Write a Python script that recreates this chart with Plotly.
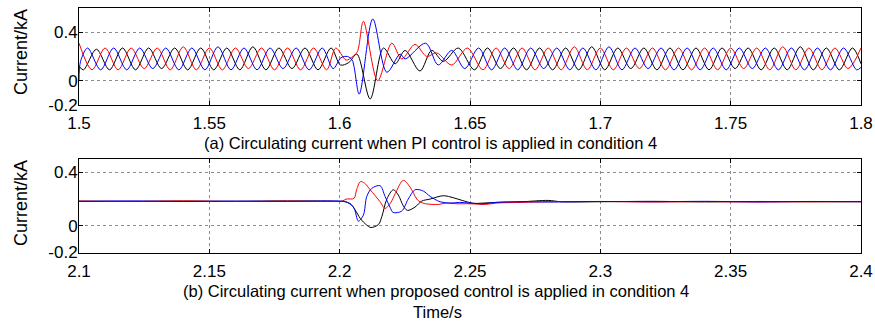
import plotly.graph_objects as go

W, H = 875, 326

# ---------------- Panel (a): PI control, t = 1.5 .. 1.8 ----------------
red_a_t = [1.500, 1.505, 1.510, 1.515, 1.520, 1.525, 1.530, 1.535, 1.540, 1.545,
           1.550, 1.555, 1.560, 1.565, 1.570, 1.575, 1.580, 1.585, 1.590, 1.595,
           1.5985, 1.6025, 1.6050, 1.6068, 1.6091, 1.6146, 1.6200, 1.6238, 1.6289,
           1.6334, 1.6372, 1.6430, 1.6490,
           1.655, 1.660, 1.665, 1.670, 1.675, 1.680, 1.685, 1.690, 1.695, 1.700,
           1.705, 1.710, 1.715, 1.720, 1.725, 1.730, 1.735, 1.740, 1.745, 1.750,
           1.755, 1.760, 1.765, 1.770, 1.775, 1.780, 1.785, 1.790, 1.795, 1.800]
red_a_v = [0.31, 0.09, 0.27, 0.09, 0.27, 0.10, 0.27, 0.09, 0.28, 0.09,
           0.27, 0.09, 0.27, 0.10, 0.27, 0.09, 0.27, 0.09, 0.27, 0.09,
           0.27, 0.17, 0.20, 0.24, 0.49, 0.00, 0.31, 0.18, 0.30,
           0.20, 0.23, 0.13, 0.27,
           0.09, 0.27, 0.10, 0.27, 0.09, 0.27, 0.09, 0.28, 0.09, 0.27,
           0.09, 0.27, 0.10, 0.27, 0.09, 0.27, 0.09, 0.27, 0.09, 0.27,
           0.10, 0.27, 0.09, 0.28, 0.09, 0.27, 0.09, 0.27, 0.10, 0.27]

blue_a_t = [1.5000, 1.5006, 1.5033, 1.5083, 1.5133, 1.5183, 1.5233, 1.5283, 1.5333,
            1.5383, 1.5433, 1.5483, 1.5533, 1.5583, 1.5633, 1.5683, 1.5733, 1.5783,
            1.5833, 1.5883, 1.5933, 1.5975, 1.6005, 1.6030, 1.6048, 1.6075, 1.6127,
            1.6181, 1.6232, 1.6251, 1.6330, 1.6378, 1.6430, 1.6480,
            1.6533, 1.6583, 1.6633, 1.6683, 1.6733, 1.6783, 1.6833, 1.6883, 1.6933,
            1.6983, 1.7033, 1.7083, 1.7133, 1.7183, 1.7233, 1.7283, 1.7333, 1.7383,
            1.7433, 1.7483, 1.7533, 1.7583, 1.7633, 1.7683, 1.7733, 1.7783, 1.7833,
            1.7883, 1.7933, 1.7983, 1.8000]
blue_a_v = [0.00, 0.16, 0.27, 0.09, 0.27, 0.09, 0.27, 0.10, 0.27,
            0.09, 0.27, 0.09, 0.28, 0.09, 0.27, 0.09, 0.27, 0.10,
            0.27, 0.09, 0.27, 0.10, 0.19, 0.20, 0.17, -0.11, 0.51,
            0.07, 0.22, 0.18, 0.31, 0.13, 0.25, 0.10,
            0.27, 0.09, 0.27, 0.09, 0.27, 0.10, 0.27, 0.09, 0.27,
            0.09, 0.28, 0.09, 0.27, 0.10, 0.27, 0.09, 0.27, 0.09,
            0.27, 0.09, 0.27, 0.10, 0.27, 0.09, 0.27, 0.09, 0.27,
            0.09, 0.27, 0.09, 0.11]

black_a_t = [1.5000, 1.5017, 1.5067, 1.5117, 1.5167, 1.5217, 1.5267, 1.5317, 1.5367,
             1.5417, 1.5467, 1.5517, 1.5567, 1.5617, 1.5667, 1.5717, 1.5767, 1.5817,
             1.5867, 1.5917, 1.5967, 1.6003, 1.6035, 1.6066, 1.6117, 1.6168, 1.6213,
             1.6251, 1.6308, 1.6353, 1.6398, 1.6455,
             1.6517, 1.6567, 1.6617, 1.6667, 1.6717, 1.6767, 1.6817, 1.6867, 1.6917,
             1.6967, 1.7017, 1.7067, 1.7117, 1.7167, 1.7217, 1.7267, 1.7317, 1.7367,
             1.7417, 1.7467, 1.7517, 1.7567, 1.7617, 1.7667, 1.7717, 1.7767, 1.7817,
             1.7867, 1.7917, 1.7967, 1.8000]
black_a_v = [0.12, 0.09, 0.26, 0.09, 0.27, 0.09, 0.27, 0.10, 0.27,
             0.09, 0.27, 0.09, 0.27, 0.09, 0.28, 0.09, 0.27, 0.10,
             0.27, 0.09, 0.27, 0.13, 0.15, 0.22, -0.15, 0.27, 0.14,
             0.25, 0.08, 0.25, 0.16, 0.27,
             0.09, 0.27, 0.10, 0.27, 0.09, 0.27, 0.09, 0.27, 0.09,
             0.28, 0.09, 0.27, 0.10, 0.27, 0.09, 0.27, 0.09, 0.27,
             0.09, 0.27, 0.10, 0.27, 0.09, 0.27, 0.09, 0.28, 0.09,
             0.27, 0.09, 0.27, 0.14]

# ---------------- Panel (b): proposed control, t = 2.1 .. 2.4 ----------------
red_b_t = [2.100, 2.120, 2.140, 2.160, 2.180, 2.195, 2.2010, 2.2025, 2.2055, 2.2065,
           2.2079, 2.2095, 2.2117, 2.2155, 2.2174, 2.2195, 2.2213, 2.2244, 2.2270,
           2.2296, 2.2308, 2.2330, 2.2380, 2.2406, 2.2450, 2.2500, 2.2560, 2.2600,
           2.270, 2.280, 2.300, 2.320, 2.340, 2.360, 2.380, 2.400]
red_b_v = [0.185, 0.183, 0.186, 0.182, 0.185, 0.183, 0.185, 0.200, 0.205, 0.270,
           0.330, 0.320, 0.270, 0.180, 0.130, 0.170, 0.240, 0.340, 0.290,
           0.200, 0.180, 0.165, 0.160, 0.170, 0.165, 0.165, 0.160, 0.170,
           0.175, 0.180, 0.182, 0.178, 0.181, 0.178, 0.180, 0.180]

blue_b_t = [2.100, 2.120, 2.140, 2.160, 2.180, 2.200, 2.2023, 2.2053, 2.2072, 2.2091,
            2.2104, 2.2123, 2.2155, 2.2174, 2.2193, 2.2205, 2.2238, 2.2263, 2.2290,
            2.2321, 2.2347, 2.2385, 2.2423, 2.2460, 2.2500, 2.2550, 2.260, 2.270,
            2.280, 2.300, 2.320, 2.340, 2.360, 2.380, 2.400]
blue_b_v = [0.183, 0.186, 0.182, 0.185, 0.183, 0.185, 0.180, 0.140, 0.035, 0.080,
            0.220, 0.280, 0.300, 0.220, 0.140, 0.100, 0.110, 0.200, 0.270,
            0.260, 0.220, 0.180, 0.170, 0.175, 0.170, 0.165, 0.175, 0.180,
            0.178, 0.182, 0.180, 0.183, 0.179, 0.182, 0.180]

black_b_t = [2.100, 2.120, 2.140, 2.160, 2.180, 2.200, 2.2020, 2.2040, 2.2059, 2.2079,
             2.2104, 2.2120, 2.2149, 2.2162, 2.2181, 2.2206, 2.2225, 2.2244, 2.2260,
             2.2289, 2.2315, 2.2347, 2.2398, 2.2436, 2.2470, 2.2513, 2.2550, 2.2600,
             2.270, 2.280, 2.285, 2.300, 2.320, 2.340, 2.360, 2.380, 2.400]
black_b_v = [0.184, 0.182, 0.185, 0.183, 0.186, 0.183, 0.180, 0.167, 0.120, 0.055,
             0.005, -0.013, 0.010, 0.070, 0.200, 0.270, 0.230, 0.150, 0.115,
             0.140, 0.185, 0.200, 0.225, 0.210, 0.190, 0.168, 0.170, 0.175,
             0.180, 0.190, 0.180, 0.180, 0.183, 0.179, 0.182, 0.180, 0.181]

xticks_a = [1.5, 1.55, 1.6, 1.65, 1.7, 1.75, 1.8]
xlabels_a = ["1.5", "1.55", "1.6", "1.65", "1.7", "1.75", "1.8"]
xticks_b = [2.1, 2.15, 2.2, 2.25, 2.3, 2.35, 2.4]
xlabels_b = ["2.1", "2.15", "2.2", "2.25", "2.3", "2.35", "2.4"]
yticks = [-0.2, 0, 0.4]
ylabels = ["-0.2", "0", "0.4"]

title_a = "(a) Circulating current when PI control is applied in condition 4"
title_b = "(b) Circulating current when proposed control is applied in condition 4"
ylab = "Current/kA"
xlab = "Time/s"

FONT = "Liberation Sans, Arial, sans-serif"

def px_x(p):
    return p / W

def px_y(p):
    return 1 - p / H

fig = go.Figure()

series = [
    (black_a_t, black_a_v, "black", "x", "y"),
    (red_a_t, red_a_v, "#ff0000", "x", "y"),
    (blue_a_t, blue_a_v, "#0000ff", "x", "y"),
    (black_b_t, black_b_v, "black", "x2", "y2"),
    (red_b_t, red_b_v, "#ff0000", "x2", "y2"),
    (blue_b_t, blue_b_v, "#0000ff", "x2", "y2"),
]
for t, v, c, xa, ya in series:
    fig.add_trace(go.Scatter(x=t, y=v, mode="lines", xaxis=xa, yaxis=ya,
                             line=dict(color=c, width=1, shape="spline", smoothing=0.9),
                             showlegend=False, hoverinfo="skip"))

xdom = [px_x(79), px_x(861)]
common_axis = dict(showline=True, linecolor="black", linewidth=1, mirror="allticks",
                   ticks="inside", ticklen=4, tickcolor="black", tickwidth=1,
                   showgrid=True, gridcolor="#8c8c8c", griddash="dot", gridwidth=1,
                   zeroline=False, automargin=False,
                   tickfont=dict(family=FONT, size=17, color="black"))

fig.update_layout(
    width=W, height=H, margin=dict(l=0, r=0, t=0, b=0),
    paper_bgcolor="white", plot_bgcolor="white",
    xaxis=dict(domain=xdom, range=[1.5, 1.8], tickvals=xticks_a, ticktext=xlabels_a,
               anchor="y", ticklabelstandoff=3, **common_axis),
    yaxis=dict(domain=[px_y(105), px_y(8)], range=[-0.2, 0.6], tickvals=yticks,
               ticktext=ylabels, anchor="x", ticklabelstandoff=-3, **common_axis),
    xaxis2=dict(domain=xdom, range=[2.1, 2.4], tickvals=xticks_b, ticktext=xlabels_b,
                anchor="y2", ticklabelstandoff=3, **common_axis),
    yaxis2=dict(domain=[px_y(252.5), px_y(159)], range=[-0.2, 0.5], tickvals=yticks,
                ticktext=ylabels, anchor="x2", ticklabelstandoff=-3, **common_axis),
)

ann_font = dict(family=FONT, size=16.5, color="black")
fig.add_annotation(text=title_a, x=px_x(430), y=px_y(143), xref="paper", yref="paper",
                   showarrow=False, font=ann_font, xanchor="center", yanchor="middle")
fig.add_annotation(text=title_b, x=px_x(436), y=px_y(291), xref="paper", yref="paper",
                   showarrow=False, font=ann_font, xanchor="center", yanchor="middle")
fig.add_annotation(text=xlab, x=px_x(437), y=px_y(312), xref="paper", yref="paper",
                   showarrow=False, font=ann_font, xanchor="center", yanchor="middle")
fig.add_annotation(text=ylab, x=px_x(21), y=px_y(52), xref="paper", yref="paper",
                   showarrow=False, font=dict(family=FONT, size=18, color="black"),
                   textangle=-90, xanchor="center", yanchor="middle")
fig.add_annotation(text=ylab, x=px_x(21), y=px_y(203), xref="paper", yref="paper",
                   showarrow=False, font=dict(family=FONT, size=18, color="black"),
                   textangle=-90, xanchor="center", yanchor="middle")

# remove the browser's default 8px body margin so the figure sits at the page origin
fig.write_html("out.html", config={"displayModeBar": False},
               post_script="document.body.style.margin='0px';")
